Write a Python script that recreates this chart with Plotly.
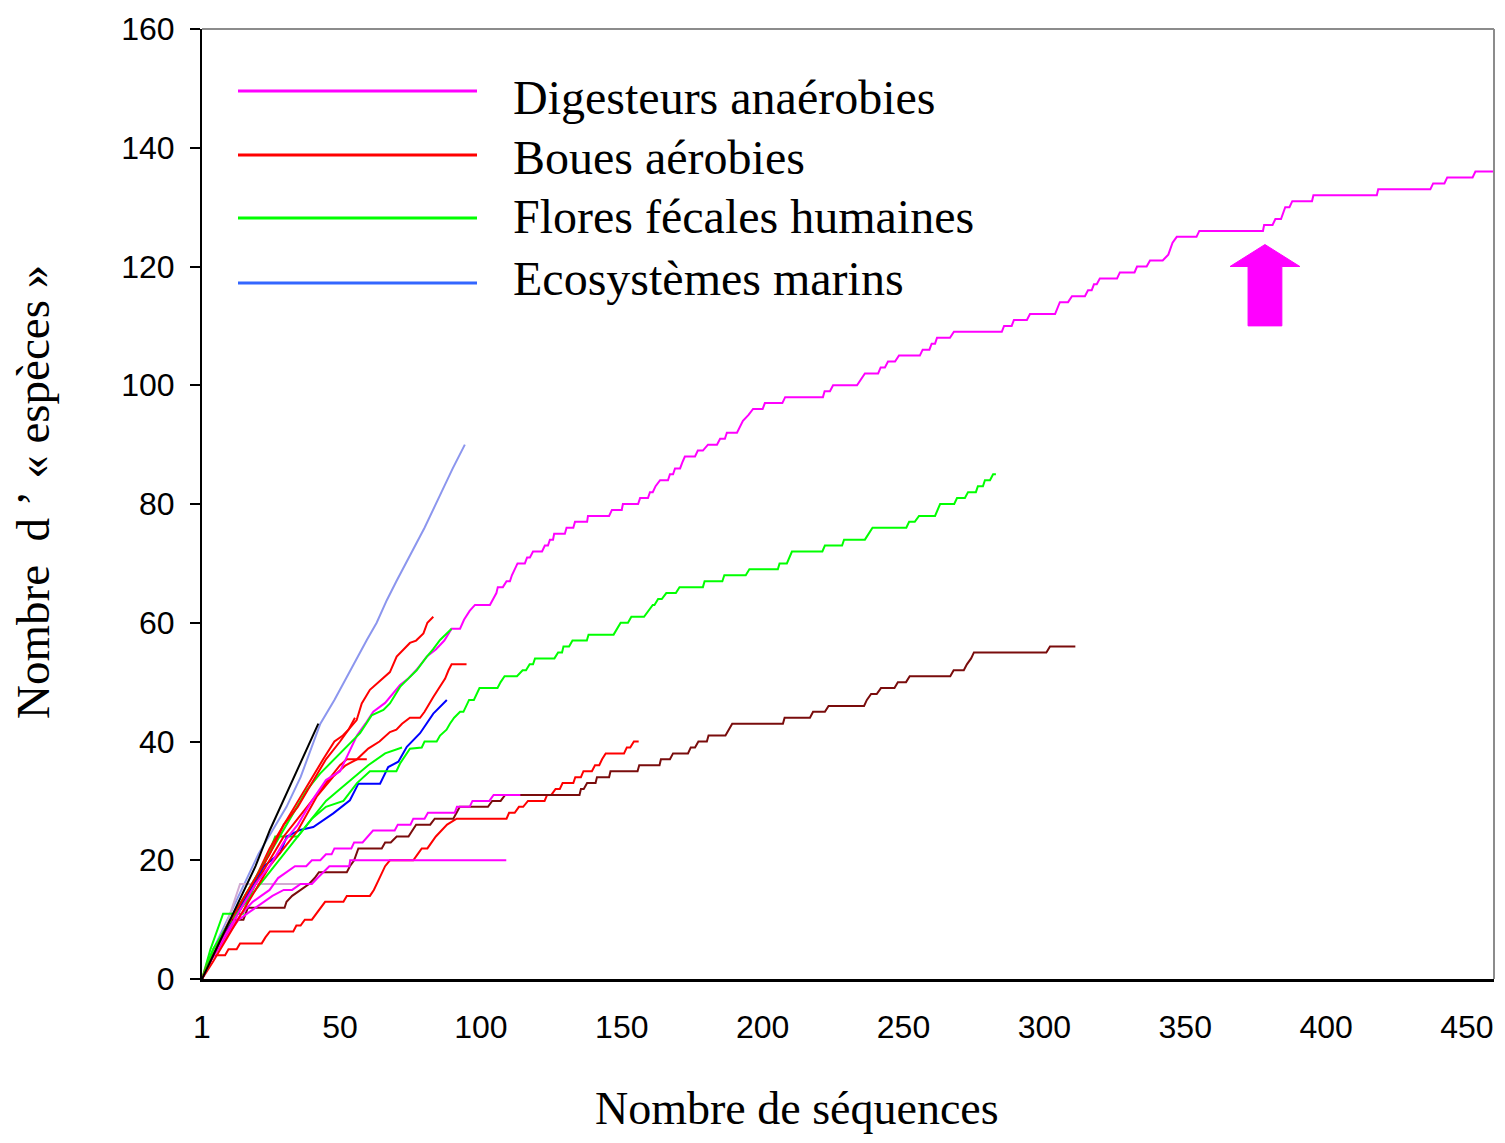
import plotly.graph_objects as go

# ---------------- data ----------------
# Each curve: number of sequences (x) vs cumulative number of "species" (y)

# Digesteurs anaerobies - long magenta curve
X_DIG_1 = [1, 5, 10, 15, 20, 25, 30, 35, 40, 45, 50, 53, 56, 59, 61.8, 66, 71.3, 74, 77, 80.8, 84, 87, 89.6,
           92.6, 94, 96, 97.9, 103.2, 104.5, 105.5, 106, 107.8, 109.1, 110.3, 111, 112, 113, 115.6, 116.4, 117.4,
           118.5, 121.7, 122.7, 123.8, 124.5, 125.6, 126, 129.8, 130.4, 132.8, 133.4, 137.7, 138, 145.5,
           146.5, 150, 150.4, 155.8, 156.5, 159.3, 160, 161, 162, 163.6, 166.4, 167.1, 168.2, 168.9, 170.7,
           171.5, 172.4, 176, 177, 178.8, 180.6, 183.8, 184.9, 186.6, 187.3, 190.9, 193, 195, 196.6, 200,
           200.8, 207, 208, 221.4, 222, 223.9, 225, 233.5, 235, 236.3, 241, 241.9, 243.4, 244.5, 247, 248.4,
           255.8, 256.8, 259.2, 260, 261.2, 261.9, 266.5, 267.9, 284.9, 285.7, 288.4, 289.2, 293.8, 294.9,
           303.8, 304.6, 305.5, 308.4, 309.8, 314.4, 315.5, 316.8, 317.6, 318.6, 319.7, 325.8, 326.8, 332,
           332.9, 336.3, 337.5, 342, 344, 345.5, 347, 354, 355, 377.6, 378, 381, 382, 384, 385.5, 387,
           388, 395, 395.5, 418, 418.5, 437, 438, 442, 443, 452, 453, 459.5]
Y_DIG_1 = [0, 4, 8, 12, 16, 19, 23, 26, 30, 33.5, 35, 38, 41, 43, 45, 46.5, 49.5, 50.5, 52, 54.3, 55.5, 57, 59,
           59, 60.5, 62, 63, 63, 64, 65, 66, 66, 67, 67, 68, 69, 70, 70, 71, 71,
           72, 72, 73, 73, 74, 74, 75, 75, 76, 76, 77, 77, 78, 78,
           79, 79, 80, 80, 81, 81, 82, 82, 83, 84, 84, 85, 85, 86, 86,
           87, 88, 88, 89, 89, 90, 90, 91, 91, 92, 92, 94, 95, 96, 96,
           97, 97, 98, 98, 99, 99, 100, 100, 101, 102, 102, 103, 103, 104, 104, 105,
           105, 106, 106, 107, 107, 108, 108, 109, 109, 110, 110, 111, 111, 112,
           112, 113, 114, 114, 115, 115, 116, 116, 117, 117, 118, 118, 119, 119,
           120, 120, 121, 121, 122, 124, 125, 125, 126, 126, 127, 127, 128, 128, 130, 130,
           131, 131, 132, 132, 133, 133, 134, 134, 135, 135, 136, 136]

# Digesteurs - magenta curve ending at 31
X_DIG_2 = [1, 4, 8, 12, 15, 19, 22, 25, 28, 31, 34, 38, 40, 43, 45, 47, 48, 54, 55, 58, 60, 61.7, 69.4, 70.5, 75,
           76, 80, 81.2, 90.7, 91.5, 96, 97, 103, 104.5, 114]
Y_DIG_2 = [0, 3, 6, 9, 11, 13, 14, 15, 17, 18, 19, 19, 20, 20, 21, 21, 22, 22, 23, 23, 24, 25, 25, 26, 26,
           27, 27, 28, 28, 29, 29, 30, 30, 31, 31]

# Digesteurs - magenta curve ending flat at 20
X_DIG_3 = [1, 4, 8, 11, 14, 17, 20, 23, 26, 30, 33, 36, 40, 42, 44, 46.2, 53.3, 53.6, 109]
Y_DIG_3 = [0, 3, 6, 8, 10, 11, 12, 13, 14, 15, 15, 16, 16, 17, 18, 19, 19, 20, 20]

# light pink short curve
X_PINK = [1, 4, 8, 11, 13, 14.5, 39.4]
Y_PINK = [0, 3, 7, 11, 14, 16, 16]

# Boues aerobies - red curves
X_RED_1 = [1, 5, 10, 15, 20, 25, 30, 35, 40, 45, 50, 53, 55.9, 57.7, 60.6, 64.2, 67.7, 70.1, 74.8, 77, 79.6,
           81, 83.1]
Y_RED_1 = [0, 4, 9, 13, 17, 21, 26, 29, 33, 37, 40, 42, 43.6, 46.4, 48.7, 50.3, 51.7, 54.3, 56.6, 57, 58.2,
           60, 61]
X_RED_2 = [1, 5, 10, 15, 20, 25, 30, 35, 41.7, 47.6, 52, 56, 60, 64, 67.7, 70, 72, 74.8, 78.4, 80, 83.1, 85,
           87.3, 88.5, 89.6, 94.9]
Y_RED_2 = [0, 3, 7, 11, 15, 19, 22, 25, 30.7, 34.1, 36, 37, 38.8, 40, 41.6, 42, 43, 44, 44, 45, 47.5, 49,
           50.6, 52, 53, 53]
X_RED_3 = [1, 5, 10, 15, 20, 25, 30, 35, 40, 45, 48, 50, 52.4, 59.5]
Y_RED_3 = [0, 4, 8, 12, 16, 20, 24, 27, 30, 33, 35, 36, 37, 37]
X_RED_4 = [1, 5, 10, 15, 20, 25, 30, 35, 40, 44, 48, 51, 53, 55.3]
Y_RED_4 = [0, 4, 9, 13, 17, 22, 26, 30, 34, 37, 40, 41, 42, 44]
X_RED_5 = [1, 2.5, 4.4, 9.2, 10.4, 13.3, 14.5, 22.2, 23.5, 25.1, 33.4, 34.5, 36, 37.5, 40, 41.5, 43, 44.7,
           51.2, 52.4, 60.6, 62, 64, 66, 67.7, 76, 77.5, 79, 81, 82.5, 84, 86, 88, 91.4, 109.1, 110, 112,
           113.5, 115, 116.7, 122.6, 123.5, 125, 126.5, 128, 129, 132.8, 133.5, 135.5, 136.4, 139.4, 140.5,
           142, 143, 144.3, 150.8, 151.8, 153, 154.3, 156]
Y_RED_5 = [0, 2, 4, 4, 5, 5, 6, 6, 7, 8, 8, 9, 9, 10, 10, 11, 12, 13,
           13, 14, 14, 15, 17, 19, 20, 20, 21, 22, 22, 23, 24, 25, 26, 27, 27, 28, 28,
           29, 29, 30, 30, 31, 31, 32, 32, 33, 33, 34, 34, 35, 35, 36,
           36, 37, 38, 38, 39, 39, 40, 40]

# Flores fecales humaines - green curves
X_GRN_1 = [1, 5, 10, 15, 20, 25, 30, 35, 40, 45, 51.2, 56, 60.6, 70, 71.3, 74.8, 79, 80, 84.3, 85.5, 87.8,
           89, 90.5, 92.6, 93.8, 95.8, 97.5, 99.5, 105.9, 107, 108.4, 112.8, 114.8, 116, 117.3, 118.5, 119.2,
           126.1, 127.4, 128.8, 129.3, 131.3, 132.5, 137.6, 138.2, 147.1, 148.5, 149.6, 152.2, 153.4, 157.9,
           159.5, 161, 161.6, 162.9, 164.2, 165.8, 169.2, 170.5, 178.8, 179.4, 185.7, 186.4, 194, 195.3,
           205.4, 206, 208.6, 209.5, 210.4, 221.2, 222.1, 228.2, 228.9, 236.3, 237.5, 239, 251, 252, 254,
           255.5, 261.2, 262, 263, 268, 269, 271.8, 272.9, 275.7, 276.4, 278.2, 278.9, 280.7, 281.8, 282.8]
Y_GRN_1 = [0, 5, 9, 12, 15, 18, 21, 24, 27, 29, 30, 33, 35, 35, 36.3, 38.8, 39, 40, 40, 41, 42,
           43, 44, 45, 45, 47, 47, 49, 49, 50, 51, 51, 52, 52, 53, 53, 54,
           54, 55, 55, 56, 56, 57, 57, 58, 58, 59, 60, 60, 61, 61,
           62, 63, 63, 64, 64, 65, 65, 66, 66, 67, 67, 68, 68, 69,
           69, 70, 70, 71, 72, 72, 73, 73, 74, 74, 75, 76, 76, 77, 77,
           78, 78, 79, 80, 80, 81, 81, 82, 82, 83, 83, 84, 84, 85, 85]
X_GRN_2 = [1, 5, 10, 15, 20, 25, 30, 35, 38.2, 42.9, 47.6, 52, 57.1, 61.2, 65.4, 67.7, 71.3, 74, 77.2, 80.8,
           83, 85.5, 89.6]
Y_GRN_2 = [0, 5, 9, 13, 17, 21, 25, 29, 31.8, 34.6, 36.9, 39, 41.4, 44.4, 45.3, 46.4, 49.2, 50.5, 52, 54.3,
           55.5, 57.1, 59]
X_GRN_3 = [1, 4, 8.5, 15.5, 18, 22, 27, 35, 40, 45, 50, 55, 60, 66, 72]
Y_GRN_3 = [0, 5, 11, 11, 14, 18, 24, 24, 27, 30, 32, 34, 36, 38, 39]

# Ecosystemes marins - blue curves
X_BLU_1 = [1, 5, 12, 18, 22.8, 28.7, 31.1, 35.8, 40.5, 47.6, 53.5, 56.5, 58, 64.2, 67.1, 70.7, 73.7, 78.4,
           83.1, 87.9]
Y_BLU_1 = [0, 4, 10, 15, 18.9, 21.2, 24, 25.1, 25.6, 27.9, 30.1, 32.9, 32.9, 32.9, 35.7, 36.6, 39.1, 41.4,
           44.7, 47]
X_LAV = [1, 3, 6, 10, 14, 17, 21, 26, 31, 36, 43, 48, 52.4, 56, 59.5, 63, 66.6, 70, 75, 80, 86, 90, 94.3]
Y_LAV = [0, 3, 6, 10, 14, 17, 21, 25, 29, 34, 43, 47, 50.9, 54, 57.1, 60, 63.8, 67, 71.5, 76, 82, 86, 90]

# other curves
X_BLK = [1, 5, 10, 15, 20, 25.1, 29.9, 35.8, 40, 42.3]
Y_BLK = [0, 4, 9, 14, 19, 25.1, 30.1, 36, 40.5, 43]
X_BRN = [1, 5, 8, 11, 15.7, 17.3, 30.3, 31, 33, 36, 39, 41, 42.5, 52.4, 53.5, 55, 56.5, 64.8, 66, 68, 70.1,
         74.3, 75.5, 77, 82, 83.6, 90.2, 91.5, 92.5, 102.5, 104, 107, 108.6, 135, 135.5, 136.5, 137.7,
         140.7, 141.2, 145.5, 146, 155.6, 156.2, 163.4, 163.9, 167.1, 168.2, 173.5, 174.5, 176, 177.2,
         180.2, 180.8, 186.8, 188, 189.2, 207.2, 207.8, 216.8, 217.9, 222.1, 223.4, 236, 237, 238.5, 240.5,
         242, 246.8, 248, 250.9, 252.2, 266.6, 267.8, 271.4, 272.5, 274, 275, 300.7, 302, 311]
Y_BRN = [0, 4, 7, 10, 10, 12, 12, 13, 14, 15, 16, 17, 18, 18, 19, 20, 22, 22, 23, 23, 24,
         24, 25, 26, 26, 27, 27, 28, 29, 29, 30, 30, 31, 31, 32, 32, 33,
         33, 34, 34, 35, 35, 36, 36, 37, 37, 38, 38, 39, 39, 40,
         40, 41, 41, 42, 43, 43, 44, 44, 45, 45, 46, 46, 47, 48, 48,
         49, 49, 50, 50, 51, 51, 52, 52, 53, 54, 55, 55, 56, 56]

X_TICKS = [1, 50, 100, 150, 200, 250, 300, 350, 400, 450]
Y_TICKS = [0, 20, 40, 60, 80, 100, 120, 140, 160]

LEGEND_LABELS = ["Digesteurs anaérobies", "Boues aérobies", "Flores fécales humaines", "Ecosystèmes marins"]
LEGEND_COLORS = ["#FF00FF", "#FF0000", "#00FF00", "#3366FF"]

X_TITLE = "Nombre de séquences"
Y_TITLE = "Nombre\u00a0\u00a0d\u00a0’\u00a0«\u00a0espèces\u00a0»"

# ---------------- styles ----------------
MAGENTA = "#FF00FF"
RED = "#FF0000"
GREEN = "#00FF00"
BLUE = "#0000FF"
LAVENDER = "#8C96EE"
BLACK = "#000000"
BROWN = "#7A0C0C"
PINK = "#D2AAD2"

curves = [
    (X_LAV, Y_LAV, LAVENDER),
    (X_PINK, Y_PINK, PINK),
    (X_GRN_3, Y_GRN_3, GREEN),
    (X_BLU_1, Y_BLU_1, BLUE),
    (X_GRN_1, Y_GRN_1, GREEN),
    (X_RED_5, Y_RED_5, RED),
    (X_BRN, Y_BRN, BROWN),
    (X_DIG_3, Y_DIG_3, MAGENTA),
    (X_DIG_2, Y_DIG_2, MAGENTA),
    (X_RED_2, Y_RED_2, RED),
    (X_RED_3, Y_RED_3, RED),
    (X_RED_4, Y_RED_4, RED),
    (X_DIG_1, Y_DIG_1, MAGENTA),
    (X_GRN_2, Y_GRN_2, GREEN),
    (X_RED_1, Y_RED_1, RED),
    (X_BLK, Y_BLK, BLACK),
]

fig = go.Figure()
for xs, ys, col in curves:
    fig.add_trace(go.Scatter(x=xs, y=ys, mode="lines", line=dict(color=col, width=2),
                             showlegend=False, hoverinfo="skip"))

# page geometry: the page body has an 8 px margin around the figure
PAGE_W, PAGE_H = 1505, 1143
BODY = 8
W, H = PAGE_W - 2 * BODY, PAGE_H - 2 * BODY
# plot area in page pixels (as in the reference)
PL, PR, PT, PB = 202, 1494, 29, 979


def px2paper_x(px):
    return (px - PL) / (PR - PL)


def px2paper_y(py):
    return (PB - py) / (PB - PT)


shapes = []
annotations = []

# legend (drawn inside plot area)
leg_line_y = [91, 155, 218, 283]
leg_text_y = [97, 157, 216, 278]
for lab, col, ly, ty in zip(LEGEND_LABELS, LEGEND_COLORS, leg_line_y, leg_text_y):
    shapes.append(dict(type="line", xref="paper", yref="paper",
                       x0=px2paper_x(238), x1=px2paper_x(477),
                       y0=px2paper_y(ly), y1=px2paper_y(ly),
                       line=dict(color=col, width=3)))
    annotations.append(dict(xref="paper", yref="paper", x=px2paper_x(511), y=px2paper_y(ty),
                            xanchor="left", yanchor="middle", text=lab, showarrow=False,
                            font=dict(family="Liberation Serif", size=48, color="black")))

# top and right frame lines (gray)
shapes.append(dict(type="line", xref="paper", yref="paper", x0=0, x1=1, y0=1, y1=1,
                   line=dict(color="#8C8C8C", width=2)))
shapes.append(dict(type="line", xref="paper", yref="paper", x0=1, x1=1, y0=0, y1=1,
                   line=dict(color="#8C8C8C", width=2)))

# block arrow (data coordinates)
AX_TIP, AY_TIP = 378.3, 123.7
AX_HEAD_L, AX_HEAD_R, AY_HEAD = 365.9, 390.7, 120.0
AX_SH_L, AX_SH_R, AY_BOT = 372.3, 384.3, 110.0
path = (f"M {AX_SH_L},{AY_BOT} L {AX_SH_R},{AY_BOT} L {AX_SH_R},{AY_HEAD} L {AX_HEAD_R},{AY_HEAD} "
        f"L {AX_TIP},{AY_TIP} L {AX_HEAD_L},{AY_HEAD} L {AX_SH_L},{AY_HEAD} Z")
shapes.append(dict(type="path", xref="x", yref="y", path=path,
                   fillcolor=MAGENTA, line=dict(color=MAGENTA, width=1)))

# axis titles
annotations.append(dict(xref="paper", yref="paper", x=px2paper_x(797), y=px2paper_y(1108),
                        xanchor="center", yanchor="middle", text=X_TITLE, showarrow=False,
                        font=dict(family="Liberation Serif", size=46, color="black")))
annotations.append(dict(xref="paper", yref="paper", x=px2paper_x(33), y=px2paper_y(492),
                        xanchor="center", yanchor="middle", text=Y_TITLE, showarrow=False,
                        textangle=-90,
                        font=dict(family="Liberation Serif", size=47, color="black")))

fig.update_layout(
    width=W, height=H,
    margin=dict(l=PL - BODY, r=W - (PR - BODY), t=PT - BODY, b=H - (PB - BODY), pad=0),
    paper_bgcolor="white", plot_bgcolor="white",
    shapes=shapes, annotations=annotations,
    showlegend=False,
    xaxis=dict(range=[1, 459.6], tickmode="array", tickvals=X_TICKS,
               ticktext=[str(v) for v in X_TICKS],
               showgrid=False, zeroline=False, showline=True, linecolor="black", linewidth=3,
               ticks="", ticklabelstandoff=18,
               tickfont=dict(family="Liberation Sans", size=32, color="black")),
    yaxis=dict(range=[0, 160], tickmode="array", tickvals=Y_TICKS,
               ticktext=[str(v) for v in Y_TICKS],
               showgrid=False, zeroline=False, showline=True, linecolor="black", linewidth=2,
               ticks="outside", ticklen=10, tickwidth=2, tickcolor="black",
               ticklabelstandoff=9,
               tickfont=dict(family="Liberation Sans", size=32, color="black")),
)

fig.write_html("out.html")
